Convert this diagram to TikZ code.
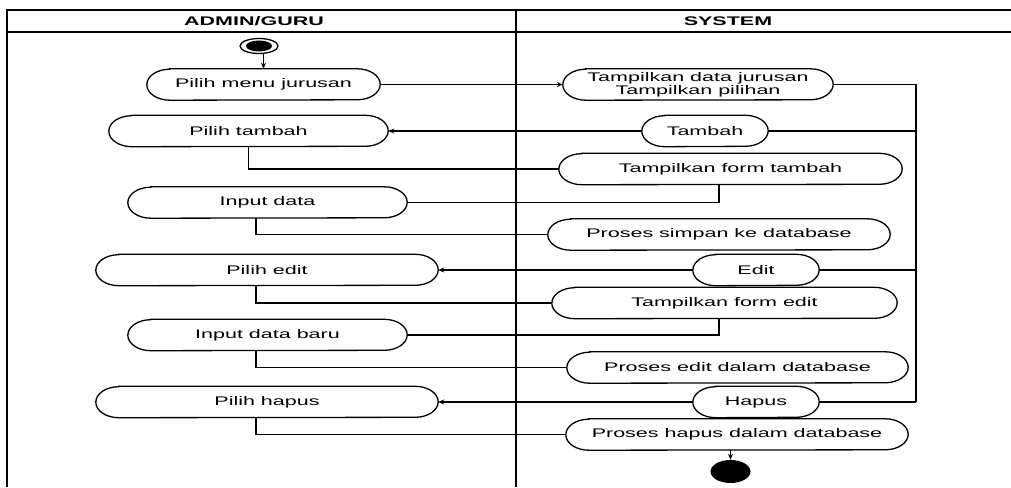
\documentclass[tikz,border=0pt]{standalone}
\usepackage{fontspec}
\setmainfont{Liberation Sans}
\usetikzlibrary{arrows.meta,shapes.geometric}
% widened lettering used for every label
\newcommand\stretched[1]{\scalebox{1.72}[1]{#1}}

\begin{document}
\begin{tikzpicture}[x=1pt,y=-1pt,
  lane/.style={line width=1.3pt},
  actnode/.style={inner sep=0pt, minimum height=31pt, font=\fontsize{12.5}{11}\selectfont},
  actline/.style={line width=1.3pt},
  flow/.style={line width=1.4pt},
  arr/.style={flow,-{Stealth[length=6pt,width=5pt]}},
  headtext/.style={font=\fontsize{12.5}{11}\selectfont\bfseries, inner sep=0pt}
]
\useasboundingbox (0,0) rectangle (1011,487);

% swimlane frame
\draw[lane] (1011,10) -- (7,10) -- (7,487);
\draw[lane] (7,32) -- (1011,32);
\draw[lane] (516,10) -- (516,487);
\node[headtext] (hadmin) at (254,21) {\stretched{ADMIN/GURU}};
\node[headtext] (hsys) at (728,21) {\stretched{SYSTEM}};

% initial and final states
\node[ellipse, draw, line width=1.3pt, minimum width=38pt, minimum height=15pt, inner sep=0pt] (start) at (259,46) {};
\node[ellipse, fill, minimum width=26pt, minimum height=11pt, inner sep=0pt] (startdot) at (259,46) {};
\node[ellipse, fill, minimum width=40pt, minimum height=23pt, inner sep=0pt] (end) at (730.5,471.5) {};

% activities
\node[actnode, minimum width=233pt] (pmj) at (263.5,84.5) {\stretched{Pilih menu jurusan}};
\node[actnode, minimum width=270pt, align=center] (tdj) at (698,84.5) {\stretched{Tampilkan data jurusan}\\\stretched{Tampilkan pilihan}};
\node[actnode, minimum width=279pt] (ptb) at (248.5,131) {\stretched{Pilih tambah}};
\node[actnode, minimum width=126pt] (tmb) at (705,131) {\stretched{Tambah}};
\node[actnode, minimum width=343pt] (tft) at (730.5,169) {\stretched{Tampilkan form tambah}};
\node[actnode, minimum width=279pt] (ind) at (267.5,202.5) {\stretched{Input data}};
\node[actnode, minimum width=342pt] (pss) at (719,234.5) {\stretched{Proses simpan ke database}};
\node[actnode, minimum width=342pt] (ped) at (267,270) {\stretched{Pilih edit}};
\node[actnode, minimum width=126pt] (edt) at (756,270) {\stretched{Edit}};
\node[actnode, minimum width=345pt] (tfe) at (724.5,303) {\stretched{Tampilkan form edit}};
\node[actnode, minimum width=279pt] (idb) at (267.5,335) {\stretched{Input data baru}};
\node[actnode, minimum width=341pt] (pea) at (737.5,367.5) {\stretched{Proses edit dalam database}};
\node[actnode, minimum width=342pt] (phs) at (267,402) {\stretched{Pilih hapus}};
\node[actnode, minimum width=126pt] (hps) at (756,402) {\stretched{Hapus}};
\node[actnode, minimum width=342pt] (phd) at (737,434.5) {\stretched{Proses hapus dalam database}};

% stadium outlines with elliptical ends
\foreach \n in {pmj,tdj,ptb,tmb,tft,ind,pss,ped,edt,tfe,idb,pea,phs,hps,phd}
  \draw[actline] ([xshift=23pt]\n.north west) -- ([xshift=-23pt]\n.north east)
    arc[start angle=90, end angle=-90, x radius=23pt, y radius=15.5pt]
    -- ([xshift=23pt]\n.south west)
    arc[start angle=270, end angle=90, x radius=23pt, y radius=15.5pt] -- cycle;

% control flow
\coordinate (bus) at (916,84.5);
\draw[arr] (start.south -| pmj.north) -- (pmj.north);
\draw[arr] (pmj.east) -- (tdj.west);
\draw[flow] (tdj.east) -- (tdj.east -| bus) -- (hps.east -| bus);
\draw[flow] (tmb.east) -- (tmb.east -| bus);
\draw[flow] (edt.east) -- (edt.east -| bus);
\draw[flow] (hps.east) -- (hps.east -| bus);
\draw[arr] (tmb.west) -- (ptb.east);
\draw[flow] (ptb.south) |- (tft.west);
\draw[flow] ([xshift=-11.5pt]tft.south) |- (ind.east);
\draw[flow] ([xshift=-11.5pt]ind.south) |- (pss.west);
\draw[arr] (edt.west) -- (ped.east);
\draw[flow] ([xshift=-11pt]ped.south) |- (tfe.west);
\draw[flow] ([xshift=-5.5pt]tfe.south) |- (idb.east);
\draw[flow] ([xshift=-11.5pt]idb.south) |- (pea.west);
\draw[arr] (hps.west) -- (phs.east);
\draw[flow] ([xshift=-11pt]phs.south) |- (phd.west);
\draw[arr] (phd.south -| end.north) -- (end.north);
\end{tikzpicture}
\end{document}
